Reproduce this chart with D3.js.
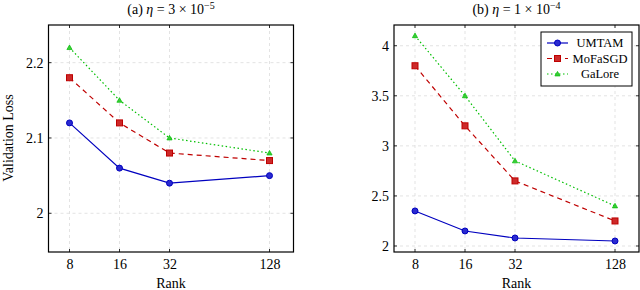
<!DOCTYPE html>
<html>
<head>
<meta charset="utf-8">
<script src="https://cdn.jsdelivr.net/npm/d3@7"></script>
<style>
  body { margin: 0; background: #fff; }
  svg text { font-family: "Liberation Serif", "DejaVu Serif", serif; fill: #000; }
</style>
</head>
<body>
<svg id="chart" width="640" height="290"></svg>
<script>
const ranks = [8, 16, 32, 128];
const seriesNames = ['UMTAM', 'MoFaSGD', 'GaLore'];

// panel (a) eta = 3e-5
const umtamA = [2.12, 2.06, 2.04, 2.05];
const mofaA = [2.18, 2.12, 2.08, 2.07];
const galoreA = [2.22, 2.15, 2.10, 2.08];
const yTicksA = [2, 2.1, 2.2];

// panel (b) eta = 1e-4
const umtamB = [2.35, 2.15, 2.08, 2.05];
const mofaB = [3.8, 3.2, 2.65, 2.25];
const galoreB = [4.1, 3.5, 2.85, 2.4];
const yTicksB = [2, 2.5, 3, 3.5, 4];

const STYLES = {
  UMTAM: { color: '#0000bf', fill: '#2a2ad0', dash: null, marker: 'circle' },
  MoFaSGD: { color: '#bf0000', fill: '#cc2a2a', dash: '5,4', marker: 'square' },
  GaLore: { color: '#00bf00', fill: '#3acc3a', dash: '1.5,2.5', marker: 'triangle' }
};

const svg = d3.select('#chart');

function drawMarker(g, st, x, y) {
  if (st.marker === 'circle') {
    g.append('circle').attr('cx', x).attr('cy', y).attr('r', 3)
      .attr('fill', st.fill).attr('stroke', st.color).attr('stroke-width', 1);
  } else if (st.marker === 'square') {
    g.append('rect').attr('x', x - 3).attr('y', y - 3).attr('width', 6).attr('height', 6)
      .attr('fill', st.fill).attr('stroke', st.color).attr('stroke-width', 1);
  } else {
    const s = 2.6;
    g.append('path')
      .attr('d', `M${x},${y - s}L${x + s},${y + s * 0.75}L${x - s},${y + s * 0.75}Z`)
      .attr('fill', st.fill).attr('stroke', st.color).attr('stroke-width', 0.7);
  }
}

function panel(opts) {
  const { left, right, top, bottom, yDomain, yTicks, series, titleSup, titleBase, prefix } = opts;
  const g = svg.append('g');

  const x = d3.scaleLog().base(2).domain([2 ** 2.58, 2 ** 7.48]).range([left, right]);
  const y = d3.scaleLinear().domain(yDomain).range([bottom, top]);

  // grid
  g.append('g').selectAll('line').data(ranks).join('line')
    .attr('x1', d => x(d)).attr('x2', d => x(d)).attr('y1', top).attr('y2', bottom)
    .attr('stroke', '#dcdcdc').attr('stroke-dasharray', '3,3').attr('stroke-width', 0.8);
  g.append('g').selectAll('line').data(yTicks).join('line')
    .attr('x1', left).attr('x2', right).attr('y1', d => y(d)).attr('y2', d => y(d))
    .attr('stroke', '#dcdcdc').attr('stroke-dasharray', '3,3').attr('stroke-width', 0.8);

  // tick labels
  const xAxis = d3.axisBottom(x).tickValues(ranks).tickFormat(d3.format('d')).tickSize(0).tickPadding(7);
  const yAxis = d3.axisLeft(y).tickValues(yTicks).tickFormat(d => String(d)).tickSize(0).tickPadding(5);
  const xg = g.append('g').attr('transform', `translate(0,${bottom})`).call(xAxis);
  const yg = g.append('g').attr('transform', `translate(${left},0)`).call(yAxis);
  [xg, yg].forEach(a => {
    a.select('.domain').remove();
    a.selectAll('text').style('font-size', '14px').style('font-family', '"Liberation Serif", serif');
  });

  // small inward ticks
  ranks.forEach(r => {
    g.append('line').attr('x1', x(r)).attr('x2', x(r)).attr('y1', bottom).attr('y2', bottom - 3).attr('stroke', '#000').attr('stroke-width', 0.8);
    g.append('line').attr('x1', x(r)).attr('x2', x(r)).attr('y1', top).attr('y2', top + 3).attr('stroke', '#000').attr('stroke-width', 0.8);
  });
  yTicks.forEach(t => {
    g.append('line').attr('x1', left).attr('x2', left + 3).attr('y1', y(t)).attr('y2', y(t)).attr('stroke', '#000').attr('stroke-width', 0.8);
    g.append('line').attr('x1', right).attr('x2', right - 3).attr('y1', y(t)).attr('y2', y(t)).attr('stroke', '#000').attr('stroke-width', 0.8);
  });

  // lines and markers
  const line = d3.line().x((d, i) => x(ranks[i])).y(d => y(d));
  series.forEach(([name, values]) => {
    const st = STYLES[name];
    g.append('path').datum(values).attr('d', line).attr('fill', 'none')
      .attr('stroke', st.color).attr('stroke-width', 1.2)
      .attr('stroke-dasharray', st.dash);
    values.forEach((v, i) => drawMarker(g, st, x(ranks[i]), y(v)));
  });

  // frame
  g.append('rect').attr('x', left).attr('y', top).attr('width', right - left).attr('height', bottom - top)
    .attr('fill', 'none').attr('stroke', '#000').attr('stroke-width', 1.2);

  // title
  const t = g.append('text').attr('x', (left + right) / 2).attr('y', 14).attr('text-anchor', 'middle').style('font-size', '14px');
  t.append('tspan').text(prefix + ' ');
  t.append('tspan').style('font-style', 'italic').text('η');
  t.append('tspan').text(' = ' + titleBase + ' × 10');
  t.append('tspan').attr('dy', -5).style('font-size', '10px').text(titleSup);

  // x label
  g.append('text').attr('x', (left + right) / 2).attr('y', 288).attr('text-anchor', 'middle')
    .style('font-size', '14px').text('Rank');
}

panel({
  left: 48.5, right: 293.5, top: 25, bottom: 252,
  yDomain: [1.9486, 2.25], yTicks: yTicksA,
  series: [['UMTAM', umtamA], ['MoFaSGD', mofaA], ['GaLore', galoreA]],
  prefix: '(a)', titleBase: '3', titleSup: '−5'
});

panel({
  left: 394, right: 639, top: 25, bottom: 252,
  yDomain: [1.94, 4.207], yTicks: yTicksB,
  series: [['UMTAM', umtamB], ['MoFaSGD', mofaB], ['GaLore', galoreB]],
  prefix: '(b)', titleBase: '1', titleSup: '−4'
});

// y label
svg.append('text').attr('transform', 'translate(12.5,138) rotate(-90)').attr('text-anchor', 'middle')
  .style('font-size', '14px').text('Validation Loss');

// legend
const leg = svg.append('g');
leg.append('rect').attr('x', 541).attr('y', 32).attr('width', 91).attr('height', 54)
  .attr('fill', '#fff').attr('stroke', '#000').attr('stroke-width', 1);
seriesNames.forEach((name, i) => {
  const st = STYLES[name];
  const yy = 43 + i * 15.5;
  leg.append('line').attr('x1', 547).attr('x2', 568).attr('y1', yy).attr('y2', yy)
    .attr('stroke', st.color).attr('stroke-width', 1.2).attr('stroke-dasharray', st.dash);
  drawMarker(leg, st, 557.5, yy);
  leg.append('text').attr('x', 600).attr('y', yy + 4).attr('text-anchor', 'middle')
    .style('font-size', '12.5px').text(name);
});
</script>
</body>
</html>
